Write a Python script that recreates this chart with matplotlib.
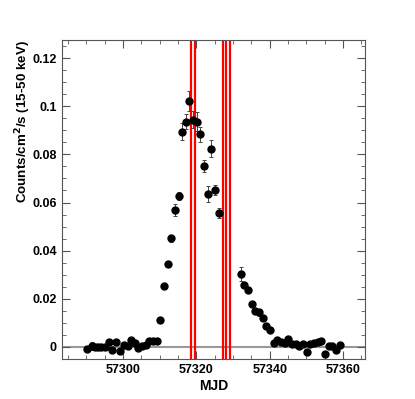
import numpy as np
import matplotlib.pyplot as plt
from matplotlib.ticker import MultipleLocator

plt.rcParams['font.family'] = ['Liberation Sans', 'DejaVu Sans']
plt.rcParams['font.weight'] = 'bold'

# light curve (MJD, rate, error)
mjd = [57290.2, 57291.4, 57292.3, 57293.2, 57294.1, 57295.0, 57296.2, 57297.1,
       57298.2, 57299.3, 57300.2, 57301.3, 57302.1, 57303.2, 57304.2, 57305.2,
       57306.2, 57307.1, 57308.2, 57309.2, 57310.2, 57311.2, 57312.2, 57313.2,
       57314.2, 57315.2, 57316.1, 57317.1, 57318.1, 57319.1, 57320.2, 57321.1,
       57322.1, 57323.1, 57324.1, 57325.1, 57326.1,
       57332.1, 57333.1, 57334.1, 57335.1, 57336.1, 57337.1, 57338.1, 57339.1,
       57340.1, 57341.1, 57342.1, 57343.1, 57344.1, 57345.1, 57346.1, 57347.1,
       57348.1, 57349.1, 57350.1, 57351.1, 57352.1, 57353.1, 57354.1, 57355.1,
       57356.1, 57357.1, 57358.1, 57359.1]
rate = [-0.0007, 0.0004, 0.0000, 0.0000, -0.0002, 0.0000, 0.0020, -0.0014,
        0.0019, -0.0016, 0.0010, 0.0002, 0.0028, 0.0018, -0.0005, 0.0005,
        0.0008, 0.0025, 0.0024, 0.0025, 0.0114, 0.0252, 0.0346, 0.0451,
        0.0570, 0.0627, 0.0894, 0.0936, 0.1022, 0.0944, 0.0936, 0.0883,
        0.0752, 0.0635, 0.0824, 0.0653, 0.0557,
        0.0303, 0.0258, 0.0238, 0.0180, 0.0150, 0.0144, 0.0119, 0.0089,
        0.0069, 0.0015, 0.0029, 0.0022, 0.0017, 0.0035, 0.0014, 0.0011,
        0.0004, 0.0014, -0.0019, 0.0011, 0.0017, 0.0022, 0.0025, -0.0030,
        0.0004, 0.0004, -0.0014, 0.0008]
err = [0.0010, 0.0018, 0.0008, 0.0008, 0.0008, 0.0008, 0.0010, 0.0010,
       0.0012, 0.0012, 0.0010, 0.0008, 0.0010, 0.0010, 0.0008, 0.0008,
       0.0008, 0.0012, 0.0012, 0.0012, 0.0010, 0.0010, 0.0008, 0.0015,
       0.0025, 0.0017, 0.0035, 0.0030, 0.0040, 0.0035, 0.0040, 0.0030,
       0.0025, 0.0033, 0.0035, 0.0020, 0.0020,
       0.0030, 0.0010, 0.0010, 0.0008, 0.0010, 0.0015, 0.0010, 0.0008,
       0.0008, 0.0008, 0.0008, 0.0008, 0.0008, 0.0010, 0.0008, 0.0008,
       0.0008, 0.0008, 0.0008, 0.0008, 0.0008, 0.0008, 0.0008, 0.0008,
       0.0010, 0.0008, 0.0010, 0.0010]

# red markers
red_lines = [57318.4, 57319.6, 57327.4, 57328.2, 57329.3]

fig = plt.figure(figsize=(4.15, 3.99), dpi=100)
ax = fig.add_axes([0.149, 0.1003, 0.7305, 0.7994])

ax.axhline(0, color='#999999', lw=1.5, zorder=1)
for xr in red_lines:
    ax.axvline(xr, color='red', lw=1.6, zorder=2)

ax.errorbar(mjd, rate, yerr=err, fmt='o', color='black', ms=5,
            ecolor='#444444', elinewidth=0.7, capsize=1.5, capthick=0.7, zorder=3)

ax.set_xlim(57283.3, 57366)
ax.set_ylim(-0.005, 0.1275)

ax.xaxis.set_major_locator(MultipleLocator(20))
ax.xaxis.set_minor_locator(MultipleLocator(5))
ax.yaxis.set_major_locator(MultipleLocator(0.02))
ax.yaxis.set_minor_locator(MultipleLocator(0.005))
ax.yaxis.set_major_formatter(plt.FuncFormatter(lambda v, p: '0' if abs(v) < 1e-9 else ('%g' % v)))

ax.tick_params(which='both', direction='in', top=True, right=True, colors='#555555',
               labelcolor='black', labelsize=9)
ax.tick_params(which='major', length=5.5)
ax.tick_params(which='minor', length=2.7)
for sp in ax.spines.values():
    sp.set_color('#555555')
    sp.set_linewidth(0.8)

ax.set_xlabel('MJD', fontsize=10, fontweight='bold', labelpad=2)
ax.set_ylabel('Counts/cm$^\\mathbf{2}$/s (15-50 keV)', fontsize=9.6, fontweight='bold', loc='top')
ax.yaxis.set_label_coords(-0.095, 1.0)

plt.savefig('out.png', dpi=100)
